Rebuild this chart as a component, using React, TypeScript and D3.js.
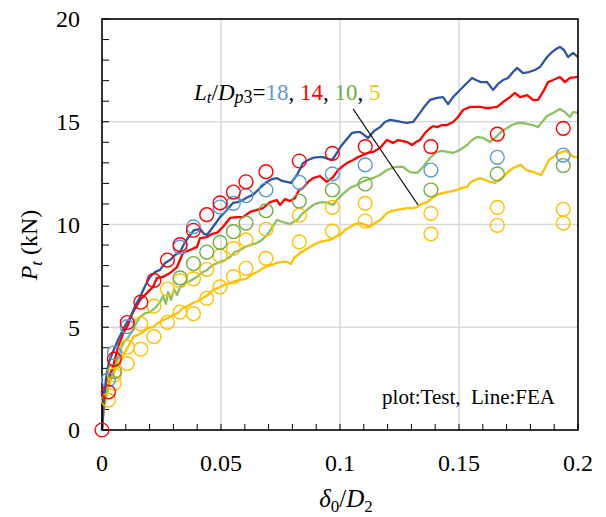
import React from "react";
import * as d3 from "d3";

// ---------- data ----------
const X_TICKS = [0, 0.05, 0.1, 0.15, 0.2];
const X_TICK_LABELS = ["0", "0.05", "0.1", "0.15", "0.2"];
const Y_TICKS = [0, 5, 10, 15, 20];
const Y_TICK_LABELS = ["0", "5", "10", "15", "20"];
const X_MINOR = d3.range(0, 0.2001, 0.01);
const Y_MINOR = d3.range(0, 20.001, 1);

// FEA curves [delta0/D2, Pt]
const FEA_18: [number, number][] = [
  [0, 0], [0.0008, 1.46], [0.0017, 2.53], [0.0029, 3.31], [0.0046, 3.8], [0.0067, 4.38], [0.0088, 4.87],
  [0.0105, 5.26], [0.0118, 5.45], [0.0139, 6.03], [0.016, 6.47], [0.0181, 7.01], [0.0202, 7.45], [0.0223, 7.69],
  [0.0244, 7.79], [0.0265, 8.13], [0.0286, 8.27], [0.0307, 8.52], [0.0328, 8.66], [0.0349, 9.15], [0.037, 9.49],
  [0.0387, 9.73], [0.0412, 9.78], [0.0429, 9.54], [0.0441, 9.49], [0.0466, 9.88], [0.0496, 10.36], [0.0521, 10.66],
  [0.055, 11.05], [0.0571, 11.09], [0.0592, 11.19], [0.0613, 11.34], [0.0634, 11.44], [0.0664, 11.78], [0.0693, 12.07],
  [0.0714, 12.21], [0.0735, 12.26], [0.0756, 12.12], [0.0777, 12.07], [0.0794, 12.02], [0.0819, 12.41], [0.0845, 12.99],
  [0.0866, 13.14], [0.0887, 13.24], [0.0908, 13.28], [0.0929, 13.28], [0.095, 13.19], [0.0966, 13.14], [0.0987, 13.48],
  [0.1008, 13.87], [0.1029, 14.16], [0.105, 14.45], [0.1067, 14.5], [0.1084, 14.5], [0.1101, 14.36], [0.1118, 14.21],
  [0.1143, 14.55], [0.1168, 14.74], [0.1189, 14.99], [0.121, 15.09], [0.1235, 15.04], [0.1256, 14.99], [0.1282, 14.94],
  [0.1307, 14.99], [0.1336, 15.43], [0.1357, 15.77], [0.1378, 16.06], [0.1408, 16.16], [0.1433, 16.2], [0.1454, 15.86],
  [0.1475, 16.2], [0.1496, 16.45], [0.1525, 16.79], [0.1555, 17.13], [0.1571, 17.03], [0.1592, 16.93], [0.1618, 16.93],
  [0.1643, 16.55], [0.1664, 16.84], [0.1685, 17.03], [0.1706, 17.13], [0.1727, 17.42], [0.1744, 17.62], [0.1769, 17.37],
  [0.1794, 17.42], [0.1819, 17.52], [0.184, 17.66], [0.187, 18.15], [0.1891, 18.39], [0.1908, 18.54], [0.1924, 18.64],
  [0.1941, 18.49], [0.1958, 18.15], [0.1979, 18.35], [0.2, 18.15],
];

const FEA_14: [number, number][] = [
  [0, 0], [0.0004, 1.61], [0.0013, 2.09], [0.0025, 2.43], [0.0046, 3.07], [0.0067, 4.04], [0.0088, 4.67],
  [0.0109, 5.11], [0.0126, 5.64], [0.0143, 5.99], [0.016, 6.33], [0.0189, 6.67], [0.0214, 6.96], [0.0231, 7.4],
  [0.0256, 7.45], [0.0286, 7.64], [0.0315, 7.93], [0.034, 8.61], [0.037, 8.76], [0.0399, 8.91], [0.0412, 9.34],
  [0.0441, 9.39], [0.0462, 9.54], [0.0483, 9.59], [0.0508, 9.88], [0.0538, 10.32], [0.0567, 10.36], [0.0592, 10.36],
  [0.0622, 10.61], [0.0651, 10.71], [0.0676, 10.8], [0.0706, 11.09], [0.0735, 11.19], [0.0748, 10.95], [0.0769, 11.24],
  [0.079, 11.14], [0.0811, 11.29], [0.0828, 11.68], [0.0845, 11.78], [0.0866, 12.07], [0.0887, 12.26], [0.0916, 12.36],
  [0.0945, 12.07], [0.0971, 12.31], [0.0992, 12.65], [0.1013, 12.85], [0.1029, 12.99], [0.1055, 13.14], [0.1076, 13.28],
  [0.1097, 13.38], [0.1118, 13.48], [0.1139, 13.53], [0.1168, 13.72], [0.1197, 14.11], [0.1223, 13.97], [0.1244, 14.11],
  [0.1265, 14.06], [0.1282, 14.01], [0.1303, 13.87], [0.1319, 14.01], [0.1336, 14.11], [0.1357, 14.45], [0.1374, 14.65],
  [0.1391, 14.79], [0.1408, 14.74], [0.1429, 14.84], [0.145, 14.84], [0.1475, 14.99], [0.1496, 15.23], [0.1517, 15.57],
  [0.1546, 15.72], [0.1567, 15.72], [0.1588, 15.72], [0.1609, 15.67], [0.163, 15.67], [0.166, 15.72], [0.1685, 15.96],
  [0.1714, 16.2], [0.1735, 16.4], [0.1756, 16.2], [0.1786, 16.3], [0.1811, 16.06], [0.1832, 16.06], [0.1853, 16.45],
  [0.1874, 16.93], [0.1895, 17.03], [0.1924, 17.18], [0.1945, 16.93], [0.1966, 17.13], [0.2, 17.18],
];

const FEA_10: [number, number][] = [
  [0, 0], [0.0008, 1.22], [0.0021, 2.04], [0.0034, 2.53], [0.0055, 3.07], [0.0076, 3.89], [0.0092, 4.28],
  [0.0109, 4.48], [0.013, 4.87], [0.0147, 5.26], [0.016, 5.5], [0.0181, 5.69], [0.0202, 5.74], [0.0223, 5.94],
  [0.0244, 6.23], [0.0256, 6.52], [0.0269, 6.13], [0.0277, 6.72], [0.029, 6.33], [0.0303, 6.86], [0.0315, 6.57],
  [0.0328, 6.96], [0.0349, 7.15], [0.037, 7.25], [0.0399, 7.45], [0.0424, 7.69], [0.0441, 7.79], [0.0466, 8.03],
  [0.0496, 8.18], [0.0517, 8.27], [0.0538, 8.42], [0.0559, 8.66], [0.058, 8.76], [0.0601, 8.91], [0.0622, 9.0],
  [0.0651, 9.1], [0.0672, 9.25], [0.0693, 9.49], [0.0714, 9.83], [0.0735, 10.22], [0.0761, 10.12], [0.079, 10.02],
  [0.0819, 10.22], [0.0845, 10.56], [0.0861, 10.71], [0.0887, 10.95], [0.0908, 11.05], [0.0929, 11.09], [0.095, 11.05],
  [0.0971, 10.95], [0.0987, 11.19], [0.1008, 11.44], [0.1042, 11.78], [0.1071, 11.92], [0.1092, 12.07], [0.1113, 12.17],
  [0.1139, 12.26], [0.1168, 12.41], [0.1197, 12.65], [0.1218, 12.75], [0.1239, 12.8], [0.1265, 12.8], [0.1294, 12.55],
  [0.1324, 12.51], [0.1349, 12.8], [0.1378, 13.24], [0.1408, 13.53], [0.1429, 13.58], [0.145, 13.53], [0.1475, 13.48],
  [0.1504, 13.63], [0.1534, 13.87], [0.1555, 14.11], [0.1576, 14.26], [0.1601, 14.21], [0.163, 14.01], [0.1651, 14.21],
  [0.1672, 14.45], [0.1702, 14.7], [0.1723, 14.84], [0.1744, 14.94], [0.1769, 14.94], [0.179, 14.89], [0.1811, 14.84],
  [0.1832, 14.74], [0.1849, 14.99], [0.187, 15.28], [0.1895, 15.43], [0.1924, 15.62], [0.1945, 15.47], [0.1966, 15.23],
  [0.1979, 15.47], [0.2, 15.43],
];

const FEA_5: [number, number][] = [
  [0, 0], [0.0008, 0.97], [0.0021, 1.7], [0.0034, 2.34], [0.0055, 2.92], [0.0076, 3.41], [0.0092, 3.7],
  [0.0118, 4.23], [0.0134, 4.57], [0.0151, 4.62], [0.0172, 4.77], [0.0193, 4.96], [0.0214, 5.01], [0.0235, 5.21],
  [0.0256, 5.35], [0.0277, 5.45], [0.0298, 5.6], [0.0319, 5.69], [0.034, 5.94], [0.0361, 6.03], [0.0382, 6.18],
  [0.0403, 6.28], [0.0424, 6.42], [0.0445, 6.57], [0.0466, 6.81], [0.0487, 6.91], [0.0513, 7.06], [0.0538, 7.15],
  [0.0559, 7.25], [0.058, 7.3], [0.0605, 7.35], [0.0626, 7.54], [0.0651, 7.69], [0.0672, 7.83], [0.0693, 7.98],
  [0.0714, 8.03], [0.0735, 8.13], [0.0756, 8.18], [0.0777, 8.18], [0.0794, 8.08], [0.0807, 8.37], [0.0832, 8.61],
  [0.0853, 8.76], [0.0874, 8.91], [0.0895, 9.05], [0.0916, 9.15], [0.0937, 9.2], [0.0958, 9.25], [0.0979, 9.39],
  [0.1, 9.49], [0.1021, 9.73], [0.1042, 9.88], [0.1063, 10.02], [0.1084, 10.07], [0.1105, 9.98], [0.1126, 9.88],
  [0.1147, 10.07], [0.1168, 10.22], [0.1185, 10.41], [0.1197, 10.56], [0.1218, 10.66], [0.1239, 10.71], [0.1261, 10.75],
  [0.1282, 10.8], [0.1303, 10.8], [0.1324, 10.85], [0.1345, 11.0], [0.1366, 11.09], [0.1387, 11.29], [0.1408, 11.44],
  [0.1429, 11.53], [0.145, 11.58], [0.1471, 11.63], [0.1492, 11.68], [0.1513, 11.78], [0.1534, 11.83], [0.155, 12.07],
  [0.1567, 12.17], [0.1588, 12.26], [0.1609, 12.17], [0.163, 12.07], [0.1651, 12.02], [0.1668, 12.17], [0.1685, 12.31],
  [0.1706, 12.55], [0.1727, 12.75], [0.1748, 12.85], [0.1761, 12.9], [0.1782, 12.65], [0.1798, 12.6], [0.1815, 12.55],
  [0.1832, 12.46], [0.1845, 12.41], [0.1861, 12.75], [0.1878, 13.14], [0.1895, 13.28], [0.1912, 13.43], [0.1933, 13.53],
  [0.195, 13.58], [0.1966, 13.43], [0.1983, 13.28], [0.2, 13.28],
];

// Test points
const TEST_X = [0, 0.0027, 0.0052, 0.0106, 0.0163, 0.0218, 0.0275, 0.0328, 0.0384, 0.044, 0.0496, 0.0552, 0.0605,
  0.0689, 0.0829, 0.0968, 0.1106, 0.1382, 0.1661, 0.1938];
const TEST_5A = [null, 1.45, 2.68, 4.03, 5.16, 6.03, 6.86, 7.27, 7.35, 7.82, 8.47, 8.84, 9.25, 9.77, 10.45, 10.83, 11.03, 10.54, 10.83, 10.74];
const TEST_5B = [null, null, 2.27, 3.23, 3.93, 4.54, 5.24, 5.74, 5.66, 6.41, 6.96, 7.46, 7.87, 8.35, 9.15, 9.68, 10.17, 9.54, 9.96, 10.07];
const TEST_10 = [null, null, 2.84, null, null, null, null, 7.4, 8.1, 8.66, 9.13, 9.65, 10.07, 10.67, 11.14, 11.68, 11.97, 11.68, 12.46, 12.87];
const TEST_18 = [null, 2.45, 3.76, 5.03, null, null, null, 8.9, 9.88, null, 10.85, 11.03, 11.4, 11.68, 12.05, 12.46, 12.9, 12.65, 13.27, 13.38];
const TEST_14 = [0, 1.85, 3.45, 5.23, 6.22, 7.28, 8.27, 9.02, 9.72, 10.48, 11.05, 11.58, 12.08, 12.57, 13.09, 13.46, 13.79, 13.79, 14.4, 14.68];

const LEADER: [number, number][] = [[0.1055, 15.62], [0.1328, 10.95]];

const C_BLUE_LINE = "#2F55A0";
const C_RED = "#FF0000";
const C_GREEN_LINE = "#8DC060";
const C_YELLOW = "#FFC000";
const C_BLUE_PT = "#5B9BD5";
const C_GREEN_PT = "#70AD47";

const SERIF = { fontFamily: "\"Liberation Serif\"" };

export default function App() {
  const W = 606, H = 517;
  const x = d3.scaleLinear().domain([0, 0.2]).range([102, 578]);
  const y = d3.scaleLinear().domain([0, 20]).range([430, 19]);
  const line = d3.line<[number, number]>().x(d => x(d[0])).y(d => y(d[1]));

  const lines = [
    { data: FEA_5, color: C_YELLOW },
    { data: FEA_10, color: C_GREEN_LINE },
    { data: FEA_14, color: C_RED },
    { data: FEA_18, color: C_BLUE_LINE },
  ];
  const tests = [
    { vals: TEST_5B, color: C_YELLOW },
    { vals: TEST_5A, color: C_YELLOW },
    { vals: TEST_10, color: C_GREEN_PT },
    { vals: TEST_18, color: C_BLUE_PT },
    { vals: TEST_14, color: C_RED },
  ];

  return (
    <svg width={W} height={H} style={{ position: "absolute", left: 0, top: 0, background: "#fff" }}>
      <rect width={W} height={H} fill="#fff" />
      {/* grid */}
      {X_TICKS.slice(1, -1).map(t => (
        <line key={"gx" + t} x1={x(t)} x2={x(t)} y1={y(0)} y2={y(20)} stroke="#D9D9D9" strokeWidth={1.5} />
      ))}
      {Y_TICKS.slice(1, -1).map(t => (
        <line key={"gy" + t} x1={x(0)} x2={x(0.2)} y1={y(t)} y2={y(t)} stroke="#D9D9D9" strokeWidth={1.5} />
      ))}
      {/* minor ticks (inside) */}
      {X_MINOR.map((t, i) => (
        <line key={"tx" + i} x1={x(t)} x2={x(t)} y1={y(0)} y2={y(0) - 6} stroke="#000" strokeWidth={1} />
      ))}
      {Y_MINOR.map((t, i) => (
        <line key={"ty" + i} x1={x(0)} x2={x(0) + 7} y1={y(t)} y2={y(t)} stroke="#000" strokeWidth={1} />
      ))}
      {/* FEA lines */}
      {lines.map((l, i) => (
        <path key={"l" + i} d={line(l.data) || ""} fill="none" stroke={l.color} strokeWidth={2.3} strokeLinejoin="round" />
      ))}
      {/* leader line */}
      <line x1={x(LEADER[0][0])} y1={y(LEADER[0][1])} x2={x(LEADER[1][0])} y2={y(LEADER[1][1])} stroke="#000" strokeWidth={1.2} />
      {/* frame */}
      <rect x={x(0)} y={y(20)} width={x(0.2) - x(0)} height={y(0) - y(20)} fill="none" stroke="#000" strokeWidth={1.6} />
      {/* test circles */}
      {tests.map((s, si) =>
        s.vals.map((v, i) =>
          v == null ? null : (
            <circle key={"c" + si + "_" + i} cx={x(TEST_X[i])} cy={y(v)} r={6.9} fill="none" stroke={s.color} strokeWidth={1.4} />
          )
        )
      )}
      {/* tick labels */}
      {X_TICKS.map((t, i) => (
        <text key={"xl" + i} x={x(t)} y={471} textAnchor="middle" fontSize={24} fill="#000" style={SERIF}>{X_TICK_LABELS[i]}</text>
      ))}
      {Y_TICKS.map((t, i) => (
        <text key={"yl" + i} x={80} y={y(t)} dy="0.35em" textAnchor="end" fontSize={24} fill="#000" style={SERIF}>{Y_TICK_LABELS[i]}</text>
      ))}
      {/* axis titles */}
      <text x={346} y={507} textAnchor="middle" fontSize={25} fill="#000" style={SERIF}>
        <tspan fontStyle="italic">δ</tspan>
        <tspan fontSize={17} dy={5}>0</tspan>
        <tspan dy={-5}>/</tspan>
        <tspan fontStyle="italic">D</tspan>
        <tspan fontSize={17} dy={5}>2</tspan>
      </text>
      <text transform="translate(37,245) rotate(-90)" textAnchor="middle" fontSize={24} fill="#000" style={SERIF}>
        <tspan fontStyle="italic">P</tspan>
        <tspan fontStyle="italic" fontSize={17} dy={5}>t</tspan>
        <tspan dy={-5}> (kN)</tspan>
      </text>
      {/* annotation */}
      <text x={194} y={100} fontSize={23} fill="#000" style={SERIF}>
        <tspan fontStyle="italic">L</tspan>
        <tspan fontStyle="italic" fontSize={17} dy={3}>t</tspan>
        <tspan dy={-3}>/</tspan>
        <tspan fontStyle="italic">D</tspan>
        <tspan fontStyle="italic" fontSize={18} dy={3}>p</tspan>
        <tspan fontSize={18}>3</tspan>
        <tspan dy={-3}>=</tspan>
        <tspan fill={C_BLUE_PT}>18</tspan>
        <tspan>, </tspan>
        <tspan fill={C_RED}>14</tspan>
        <tspan>, </tspan>
        <tspan fill={C_GREEN_PT}>10</tspan>
        <tspan>, </tspan>
        <tspan fill={C_YELLOW}>5</tspan>
      </text>
      <text x={555} y={404} textAnchor="end" fontSize={21} fill="#000" style={{ ...SERIF, whiteSpace: "pre" }}>
        {"plot:Test,  Line:FEA"}
      </text>
    </svg>
  );
}
